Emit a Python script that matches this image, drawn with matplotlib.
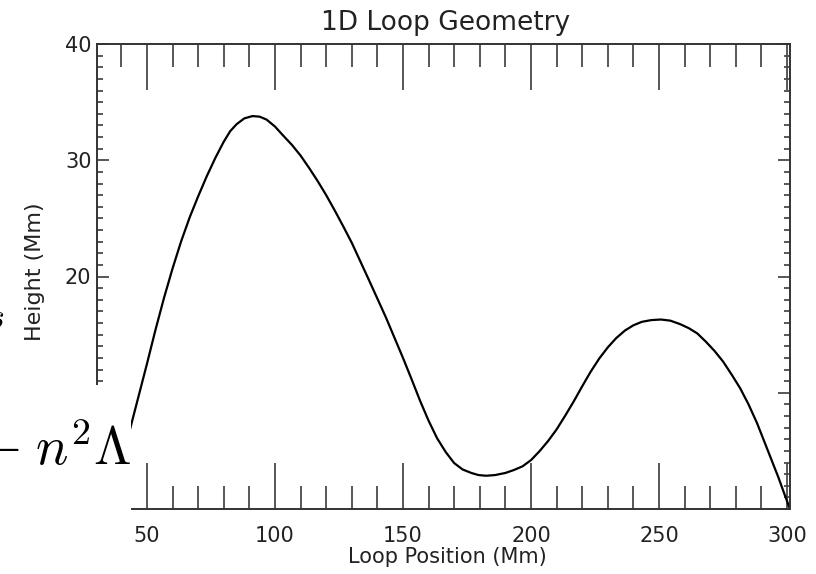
import matplotlib
matplotlib.use("Agg")
import matplotlib.pyplot as plt
from matplotlib.ticker import MultipleLocator
from matplotlib.patches import Rectangle

plt.rcParams['mathtext.fontset'] = 'cm'

# Data (loop position in Mm, height in Mm)
loop_pos = [30.5, 37.0, 43.3, 50.0, 53.3, 56.7, 60.0, 63.3, 66.7, 70.0, 73.3,
            76.7, 80.0, 82.5, 85.0, 88.0, 91.2, 94.0, 96.7, 100.0, 103.3,
            106.7, 110.0, 113.3, 116.7, 120.0, 123.3, 126.7, 130.0, 136.7,
            143.3, 150.0, 153.3, 156.7, 160.0, 163.3, 166.7, 170.0, 173.3,
            176.7, 179.5, 182.5, 186.0, 190.0, 193.3, 196.7, 200.0, 203.3,
            206.7, 210.0, 213.3, 216.7, 220.0, 223.3, 226.7, 230.0, 233.3,
            236.7, 240.0, 243.3, 247.0, 250.8, 254.5, 258.3, 261.7, 265.0,
            268.3, 271.7, 275.0, 278.3, 281.7, 285.0, 288.3, 291.7, 294.2,
            296.7, 299.0, 301.2]
height = [0.0, 3.3, 6.8, 12.5, 15.4, 18.2, 20.7, 23.0, 25.1, 26.9, 28.6,
          30.2, 31.6, 32.5, 33.1, 33.6, 33.8, 33.75, 33.5, 32.9, 32.1,
          31.3, 30.4, 29.35, 28.2, 27.0, 25.7, 24.3, 22.9, 19.7,
          16.5, 13.0, 11.2, 9.3, 7.6, 6.1, 4.9, 3.95, 3.4,
          3.1, 2.92, 2.86, 2.92, 3.1, 3.35, 3.67, 4.2, 4.96,
          5.85, 6.84, 8.0, 9.25, 10.55, 11.8, 12.95, 13.9, 14.7,
          15.35, 15.8, 16.1, 16.25, 16.3, 16.2, 15.9, 15.55, 15.1,
          14.4, 13.6, 12.7, 11.6, 10.4, 9.0, 7.4, 5.5, 4.1,
          2.7, 1.3, 0.0]

title = "1D Loop Geometry"
xlabel = "Loop Position (Mm)"
ylabel = "Height (Mm)"
formula = r"$-\;n^2\Lambda$"

W, H = 816, 574
fig = plt.figure(figsize=(W / 100, H / 100), dpi=100)


def fx(px):
    return px / W


def fy(py):
    return 1 - py / H


L, R, T, B = 97, 790, 44, 509
ax = fig.add_axes([fx(L), fy(B), fx(R) - fx(L), fy(T) - fy(B)])

ax.plot(loop_pos, height, color='black', lw=1.6, solid_capstyle='round',
        solid_joinstyle='round')

ax.set_xlim(30.47, 301.2)
ax.set_ylim(0, 40)
ax.xaxis.set_major_locator(MultipleLocator(50))
ax.xaxis.set_minor_locator(MultipleLocator(10))
ax.yaxis.set_major_locator(MultipleLocator(10))
ax.yaxis.set_minor_locator(MultipleLocator(1))

tick_col = '#4a4a4a'
ax.tick_params(axis='x', which='both', direction='in', top=True, bottom=True,
               color=tick_col, width=1.3, labelsize=15, pad=12,
               labelcolor='#222222')
ax.tick_params(axis='x', which='major', length=33)
ax.tick_params(axis='x', which='minor', length=16.5)
ax.tick_params(axis='y', which='both', direction='in', left=True, right=True,
               color=tick_col, width=1.3, labelsize=15, pad=4,
               labelcolor='#222222')
ax.tick_params(axis='y', which='major', length=8.6)
ax.tick_params(axis='y', which='minor', length=4.3)

for s in ax.spines.values():
    s.set_color('#333333')
    s.set_linewidth(1.4)

fig.text(fx(446), fy(30), title, ha='center', va='baseline', fontsize=19,
         color='#222222')
fig.text(fx(447), fy(557), xlabel, ha='center', va='center', fontsize=15,
         color='#222222')
fig.text(fx(35), fy(272), ylabel, ha='center', va='center', rotation=90,
         fontsize=16, color='#222222')

# White box covering the lower-left corner with a formula fragment
fig.patches.append(Rectangle((0, 0), fx(131), fy(385), transform=fig.transFigure,
                             facecolor='white', edgecolor='none', zorder=10))
fig.text(fx(131), fy(465), formula, ha='right', va='baseline', fontsize=39,
         zorder=11)
fig.text(fx(4), fy(328), r"$s$", ha='right', va='baseline', fontsize=26,
         zorder=11)

fig.savefig("out.png", dpi=100)
